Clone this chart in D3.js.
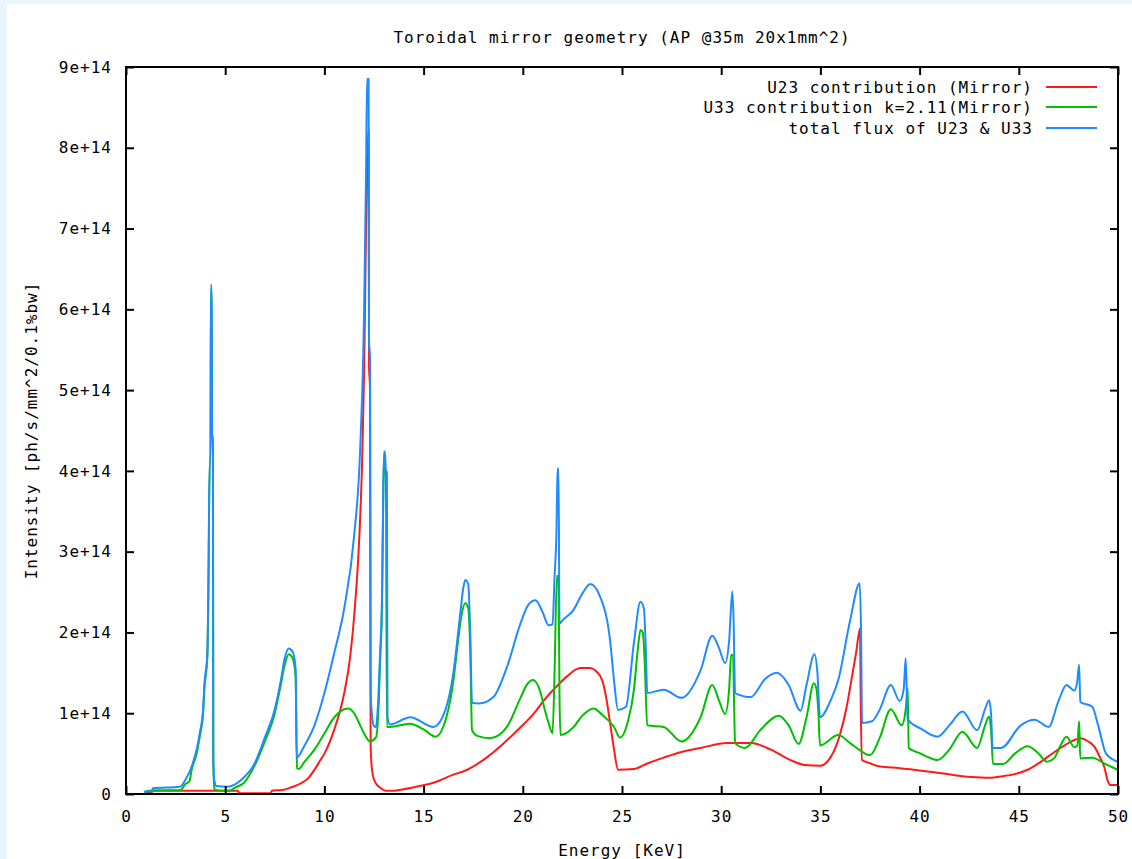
<!DOCTYPE html>
<html>
<head>
<meta charset="utf-8">
<script src="https://cdn.jsdelivr.net/npm/d3@7"></script>
<style>
  html, body { margin: 0; padding: 0; background: #e9f5fc; }
  svg { display: block; }
  text { font-family: "DejaVu Sans Mono", "Liberation Mono", monospace; fill: #000; }
</style>
</head>
<body>
<svg id="chart" width="1132" height="859"></svg>
<script>
// ---------------- data (intensity in units of 1e14 ph/s/mm^2/0.1%bw) ----------------
const title = "Toroidal mirror geometry (AP @35m 20x1mm^2)";
const xLabel = "Energy [KeV]";
const yLabel = "Intensity [ph/s/mm^2/0.1%bw]";
const xTicks = [0, 5, 10, 15, 20, 25, 30, 35, 40, 45, 50];
const yTicks = [0, 1, 2, 3, 4, 5, 6, 7, 8, 9];
const yTickLabels = ["0", "1e+14", "2e+14", "3e+14", "4e+14", "5e+14", "6e+14", "7e+14", "8e+14", "9e+14"];
const seriesNames = ["U23 contribution (Mirror)", "U33 contribution k=2.11(Mirror)", "total flux of U23 & U33"];

// U23 contribution (Mirror)
const u23Energy = [0.95,1.3,1.35,5.65,5.7,7.3,7.35,7.9,8.3,8.8,9.2,9.5,9.8,10.0,10.5,11.0,11.3,11.5,11.7,11.8,11.9,12.0,12.1,12.2,12.23,12.25,12.3,12.33,12.4,12.5,12.6,12.8,13.1,13.5,14.0,14.8,15.5,16.5,17.2,18.0,19.0,19.9,20.5,21.2,21.7,22.2,22.9,23.4,23.7,24.0,24.2,24.4,24.6,24.8,25.6,26.3,27.1,28.0,28.96,30.3,31.5,32.5,33.5,34.2,35.0,35.5,35.8,36.0,36.3,36.5,36.8,37.0,37.03,37.1,37.5,38.0,39.0,39.7,41.0,42.6,43.5,44.2,45.0,45.45,46.0,46.8,47.5,48.1,48.5,48.8,49.1,49.3,49.5,49.6,50.0];
const u23Value  = [0.02,0.02,0.04,0.04,0.01,0.01,0.04,0.05,0.08,0.13,0.2,0.3,0.42,0.5,0.8,1.25,1.7,2.2,2.9,3.4,4.1,5.2,7.0,8.2,8.2,5.3,5.0,0.6,0.3,0.18,0.13,0.08,0.04,0.04,0.06,0.1,0.14,0.24,0.3,0.42,0.62,0.83,0.98,1.2,1.33,1.45,1.56,1.56,1.52,1.41,1.2,0.88,0.55,0.3,0.31,0.38,0.45,0.52,0.57,0.63,0.63,0.55,0.42,0.36,0.35,0.45,0.6,0.75,1.05,1.32,1.75,2.05,1.22,0.42,0.38,0.34,0.32,0.3,0.26,0.21,0.2,0.22,0.26,0.3,0.38,0.52,0.63,0.69,0.65,0.59,0.45,0.34,0.15,0.11,0.11];

// U33 contribution k=2.11 (Mirror)
const u33Energy = [0.95,1.1,2.75,2.98,3.2,3.31,3.56,3.73,3.88,3.95,4.1,4.15,4.22,4.26,4.28,4.32,4.34,4.38,4.4,4.45,4.8,5.2,5.5,5.95,6.5,7.0,7.5,7.8,8.0,8.2,8.4,8.55,8.62,8.7,9.0,9.5,10.0,10.5,10.8,11.0,11.2,11.5,11.8,12.0,12.3,12.6,12.75,12.8,12.9,12.95,13.0,13.1,13.15,13.3,14.3,15.0,15.6,16.2,16.5,16.7,16.9,17.1,17.25,17.35,17.44,17.7,18.36,19.2,19.9,20.2,20.52,20.9,21.1,21.3,21.5,21.6,21.72,21.8,21.85,21.9,22.56,23.0,23.57,24.0,24.6,24.9,25.3,25.6,25.8,25.93,26.05,26.15,26.27,27.1,28.0,28.96,29.55,29.9,30.2,30.4,30.5,30.6,30.65,30.7,31.2,32.0,32.9,33.4,33.9,34.3,34.67,34.8,34.9,34.98,35.9,36.5,37.0,37.5,38.0,38.55,39.1,39.3,39.4,39.45,40.06,40.4,40.9,41.5,42.16,42.9,43.3,43.5,43.6,43.7,44.2,44.8,45.45,46.0,46.4,46.8,47.1,47.4,47.8,47.95,48.04,48.1,48.7,49.3,49.98];
const u33Value  = [0.01,0.04,0.05,0.12,0.16,0.3,0.5,0.73,0.98,1.3,1.7,2.45,4.1,4.1,6.25,6.25,4.35,4.35,0.4,0.06,0.04,0.04,0.08,0.14,0.36,0.65,1.0,1.35,1.6,1.73,1.68,1.45,0.32,0.31,0.4,0.55,0.75,0.95,1.02,1.05,1.06,1.0,0.85,0.75,0.65,0.7,1.2,1.6,2.3,3.3,4.15,3.9,0.83,0.83,0.87,0.8,0.71,1.0,1.4,1.82,2.2,2.36,2.3,1.8,0.79,0.72,0.69,0.83,1.2,1.35,1.41,1.25,1.05,0.88,0.75,1.5,2.7,2.7,1.2,0.73,0.83,0.97,1.06,0.98,0.83,0.7,0.9,1.29,1.8,2.03,2.0,1.6,0.85,0.83,0.65,0.95,1.35,1.15,0.99,1.3,1.72,1.72,1.1,0.63,0.57,0.8,0.97,0.85,0.62,0.95,1.37,1.3,1.0,0.6,0.73,0.63,0.54,0.48,0.7,1.05,0.85,1.05,1.31,0.57,0.5,0.46,0.42,0.55,0.77,0.57,0.85,0.96,0.8,0.37,0.37,0.5,0.59,0.5,0.4,0.45,0.6,0.71,0.58,0.6,0.9,0.44,0.45,0.38,0.3];

// total flux of U23 & U33
const totalEnergy = [0.9,1.3,1.35,2.72,2.98,3.31,3.56,3.73,3.88,3.95,4.1,4.15,4.22,4.26,4.28,4.32,4.34,4.38,4.4,4.45,4.55,5.08,5.5,6.0,6.4,7.0,7.5,7.8,8.0,8.2,8.4,8.55,8.6,9.0,9.5,10.0,10.5,11.0,11.5,11.8,12.0,12.1,12.15,12.23,12.25,12.3,12.33,12.4,12.5,12.6,12.7,12.8,12.9,12.95,13.0,13.05,13.1,13.15,13.18,13.3,14.33,15.5,15.97,16.5,16.85,17.0,17.1,17.25,17.35,17.44,17.8,18.52,19.2,19.88,20.3,20.64,21.0,21.3,21.5,21.6,21.7,21.75,21.8,21.85,22.0,22.56,23.0,23.4,23.9,24.4,24.6,24.8,25.2,25.6,25.93,26.1,26.2,26.27,27.1,28.0,28.96,29.55,29.9,30.2,30.4,30.56,30.62,30.7,31.5,32.2,32.8,33.4,34.0,34.3,34.7,34.85,34.98,35.5,35.9,36.5,36.98,37.05,37.1,37.6,38.0,38.55,39.0,39.2,39.3,39.4,40.06,40.9,41.5,42.16,42.9,43.3,43.5,43.6,43.68,44.1,45.1,45.8,46.5,47.0,47.4,47.8,47.95,48.04,48.1,48.7,49.0,49.4,49.98];
const totalValue  = [0.03,0.03,0.07,0.09,0.17,0.34,0.55,0.77,1.02,1.35,1.74,2.5,4.16,4.16,6.3,6.3,4.42,4.42,0.46,0.17,0.1,0.09,0.12,0.22,0.34,0.7,1.05,1.4,1.68,1.8,1.76,1.55,0.45,0.6,0.85,1.25,1.75,2.3,3.2,4.25,5.95,7.7,8.85,8.85,5.6,5.4,1.25,0.98,0.84,0.83,1.1,1.7,2.4,3.4,4.24,4.24,3.99,3.99,0.96,0.86,0.95,0.83,0.96,1.5,2.24,2.55,2.65,2.6,2.0,1.13,1.12,1.2,1.57,2.11,2.35,2.4,2.25,2.09,2.1,2.69,3.29,4.03,4.03,2.11,2.15,2.28,2.48,2.6,2.44,1.9,1.4,1.04,1.08,1.87,2.38,2.3,1.8,1.25,1.29,1.19,1.53,1.96,1.8,1.62,1.9,2.51,2.2,1.25,1.2,1.42,1.5,1.35,1.03,1.35,1.73,1.5,0.95,1.15,1.41,2.15,2.61,2.0,0.88,0.9,1.05,1.35,1.15,1.3,1.68,0.92,0.81,0.71,0.85,1.02,0.79,1.05,1.16,1.0,0.57,0.57,0.85,0.92,0.83,1.15,1.35,1.28,1.4,1.6,1.14,1.08,0.85,0.5,0.4];

const seriesColors = ["#ff1a1a", "#00c000", "#1e8cff"];

// ---------------- layout ----------------
const W = 1132, H = 859;
const plot = { left: 126, top: 67, right: 1118, bottom: 794 };
const svg = d3.select("#chart");

// white panel over light-blue page background
svg.append("rect").attr("x", 7).attr("y", 4).attr("width", W - 7).attr("height", H - 4).attr("fill", "#ffffff");

const x = d3.scaleLinear().domain([0, 50]).range([plot.left, plot.right]);
const y = d3.scaleLinear().domain([0, 9]).range([plot.bottom, plot.top]);

const fontSize = 16, spacing = 1;

// title
svg.append("text").attr("x", (plot.left + plot.right) / 2).attr("y", 43)
  .attr("text-anchor", "middle").attr("font-size", fontSize).attr("letter-spacing", spacing)
  .text(title);

// clip for data
svg.append("clipPath").attr("id", "clip").append("rect")
  .attr("x", plot.left).attr("y", plot.top).attr("width", plot.right - plot.left).attr("height", plot.bottom - plot.top);

const line = d3.line().x(d => x(d[0])).y(d => y(d[1])).curve(d3.curveMonotoneX);
const series = [
  { e: u23Energy, v: u23Value },
  { e: u33Energy, v: u33Value },
  { e: totalEnergy, v: totalValue }
];
const g = svg.append("g").attr("clip-path", "url(#clip)");
series.forEach((s, i) => {
  const pts = s.e.map((e, k) => [e, s.v[k]]);
  g.append("path").attr("d", line(pts)).attr("fill", "none")
    .attr("stroke", seriesColors[i]).attr("stroke-width", 2).attr("stroke-linejoin", "round");
});

// axes (inward ticks, mirrored)
const tick = 8;
const axB = svg.append("g").attr("transform", `translate(0,${plot.bottom})`)
  .call(d3.axisBottom(x).tickValues(xTicks).tickSizeInner(-tick).tickSizeOuter(0).tickPadding(17).tickFormat(d3.format("d")));
const axT = svg.append("g").attr("transform", `translate(0,${plot.top})`)
  .call(d3.axisTop(x).tickValues(xTicks).tickSizeInner(-tick).tickSizeOuter(0).tickFormat(""));
const axL = svg.append("g").attr("transform", `translate(${plot.left},0)`)
  .call(d3.axisLeft(y).tickValues(yTicks).tickSizeInner(-tick).tickSizeOuter(0).tickPadding(14).tickFormat((d, i) => yTickLabels[i]));
const axR = svg.append("g").attr("transform", `translate(${plot.right},0)`)
  .call(d3.axisRight(y).tickValues(yTicks).tickSizeInner(-tick).tickSizeOuter(0).tickFormat(""));
[axB, axT, axL, axR].forEach(a => {
  a.select(".domain").remove();
  a.selectAll(".tick line").attr("stroke", "#000").attr("stroke-width", 2);
  a.selectAll("text").attr("font-size", fontSize).attr("letter-spacing", spacing)
    .attr("font-family", "DejaVu Sans Mono, monospace").attr("fill", "#000");
});
axB.selectAll("text").attr("dy", "0.71em");

// border
svg.append("rect").attr("x", plot.left).attr("y", plot.top)
  .attr("width", plot.right - plot.left).attr("height", plot.bottom - plot.top)
  .attr("fill", "none").attr("stroke", "#000").attr("stroke-width", 2);

// axis labels
svg.append("text").attr("x", (plot.left + plot.right) / 2).attr("y", 856)
  .attr("text-anchor", "middle").attr("font-size", fontSize).attr("letter-spacing", spacing)
  .text(xLabel);
svg.append("text").attr("transform", `translate(37,${(plot.top + plot.bottom) / 2}) rotate(-90)`)
  .attr("text-anchor", "middle").attr("font-size", fontSize).attr("letter-spacing", spacing)
  .text(yLabel);

// legend
const legRows = [87, 107, 128];
seriesNames.forEach((name, i) => {
  svg.append("text").attr("x", 1033).attr("y", legRows[i]).attr("dy", "0.35em")
    .attr("text-anchor", "end").attr("font-size", fontSize).attr("letter-spacing", spacing)
    .text(name);
  svg.append("line").attr("x1", 1046).attr("x2", 1097).attr("y1", legRows[i]).attr("y2", legRows[i])
    .attr("stroke", seriesColors[i]).attr("stroke-width", 2);
});
</script>
</body>
</html>
